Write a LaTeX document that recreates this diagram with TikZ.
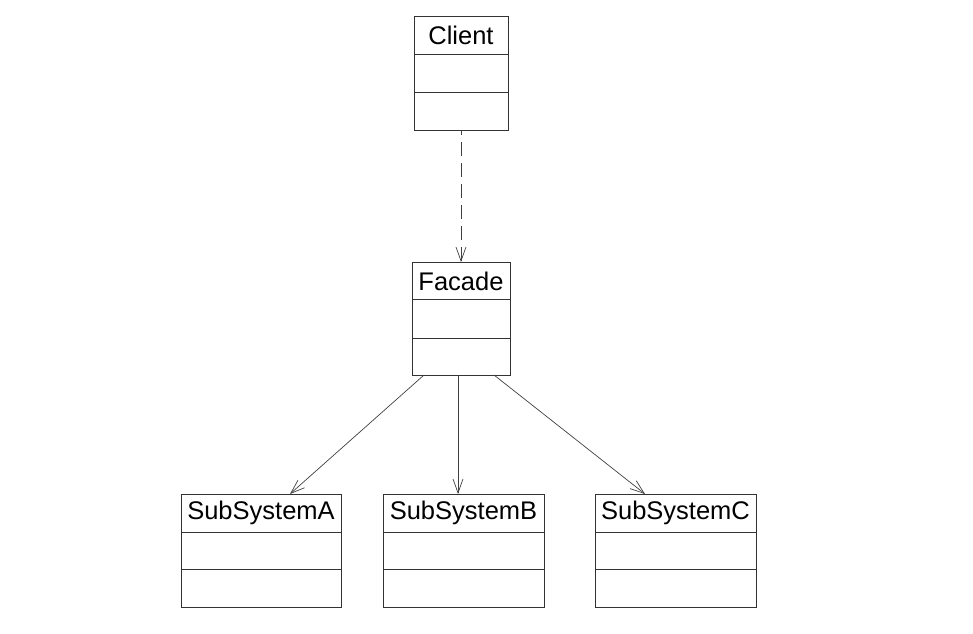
\documentclass[tikz,border=0pt]{standalone}
\usepackage{fontspec}
\setmainfont{Liberation Sans}
\usetikzlibrary{arrows.meta}
\begin{document}
\begin{tikzpicture}[x=1pt,y=-1pt,
  cls/.style={draw=black!80,line width=0.9pt,minimum height=113pt,inner sep=0pt,outer sep=0pt},
  ttl/.style={font=\fontsize{25.5}{28}\selectfont,inner sep=0pt,anchor=center},
  arr/.style={draw=black!75,line width=0.7pt,-{Straight Barb[length=14pt,width=10pt,line width=0.7pt]}},
  dep/.style={arr,dash pattern=on 14pt off 7pt,dash phase=9pt}]
\useasboundingbox (0,0) rectangle (973,633);
% class boxes
\node[cls,minimum width=94pt,minimum height=114pt] (client) at (461,73) {};
\node[cls,minimum width=98pt] (fac) at (461,318.5) {};
\node[cls,minimum width=160pt] (a) at (261,550.5) {};
\node[cls,minimum width=161pt] (b) at (463.5,550.5) {};
\node[cls,minimum width=161pt] (c) at (675.5,550.5) {};
% compartments
\foreach \n/\h/\d in {client/38/76,fac/37/76,a/38/75,b/38/75,c/38/75}{
  \draw[draw=black!80,line width=0.9pt] ([yshift=-\h pt]\n.north west) -- ([yshift=-\h pt]\n.north east);
  \draw[draw=black!80,line width=0.9pt] ([yshift=-\d pt]\n.north west) -- ([yshift=-\d pt]\n.north east);
}
% titles
\node[ttl] (tclient) at ([yshift=-19pt]client.north) {Client};
\node[ttl] (tfac) at ([yshift=-19pt]fac.north) {Facade};
\node[ttl] (ta) at ([yshift=-19pt]a.north) {SubSystemA};
\node[ttl] (tb) at ([yshift=-19pt]b.north) {SubSystemB};
\node[ttl] (tc) at ([yshift=-19pt]c.north) {SubSystemC};
% connectors
\draw[dep] (client.south) -- (fac.north);
\draw[arr] ([xshift=-37pt]fac.south) -- ([xshift=29pt]a.north);
\draw[arr] ([xshift=-3pt]fac.south) -- ([xshift=-5.5pt]b.north);
\draw[arr] ([xshift=33pt]fac.south) -- ([xshift=-30.5pt]c.north);
\end{tikzpicture}
\end{document}
